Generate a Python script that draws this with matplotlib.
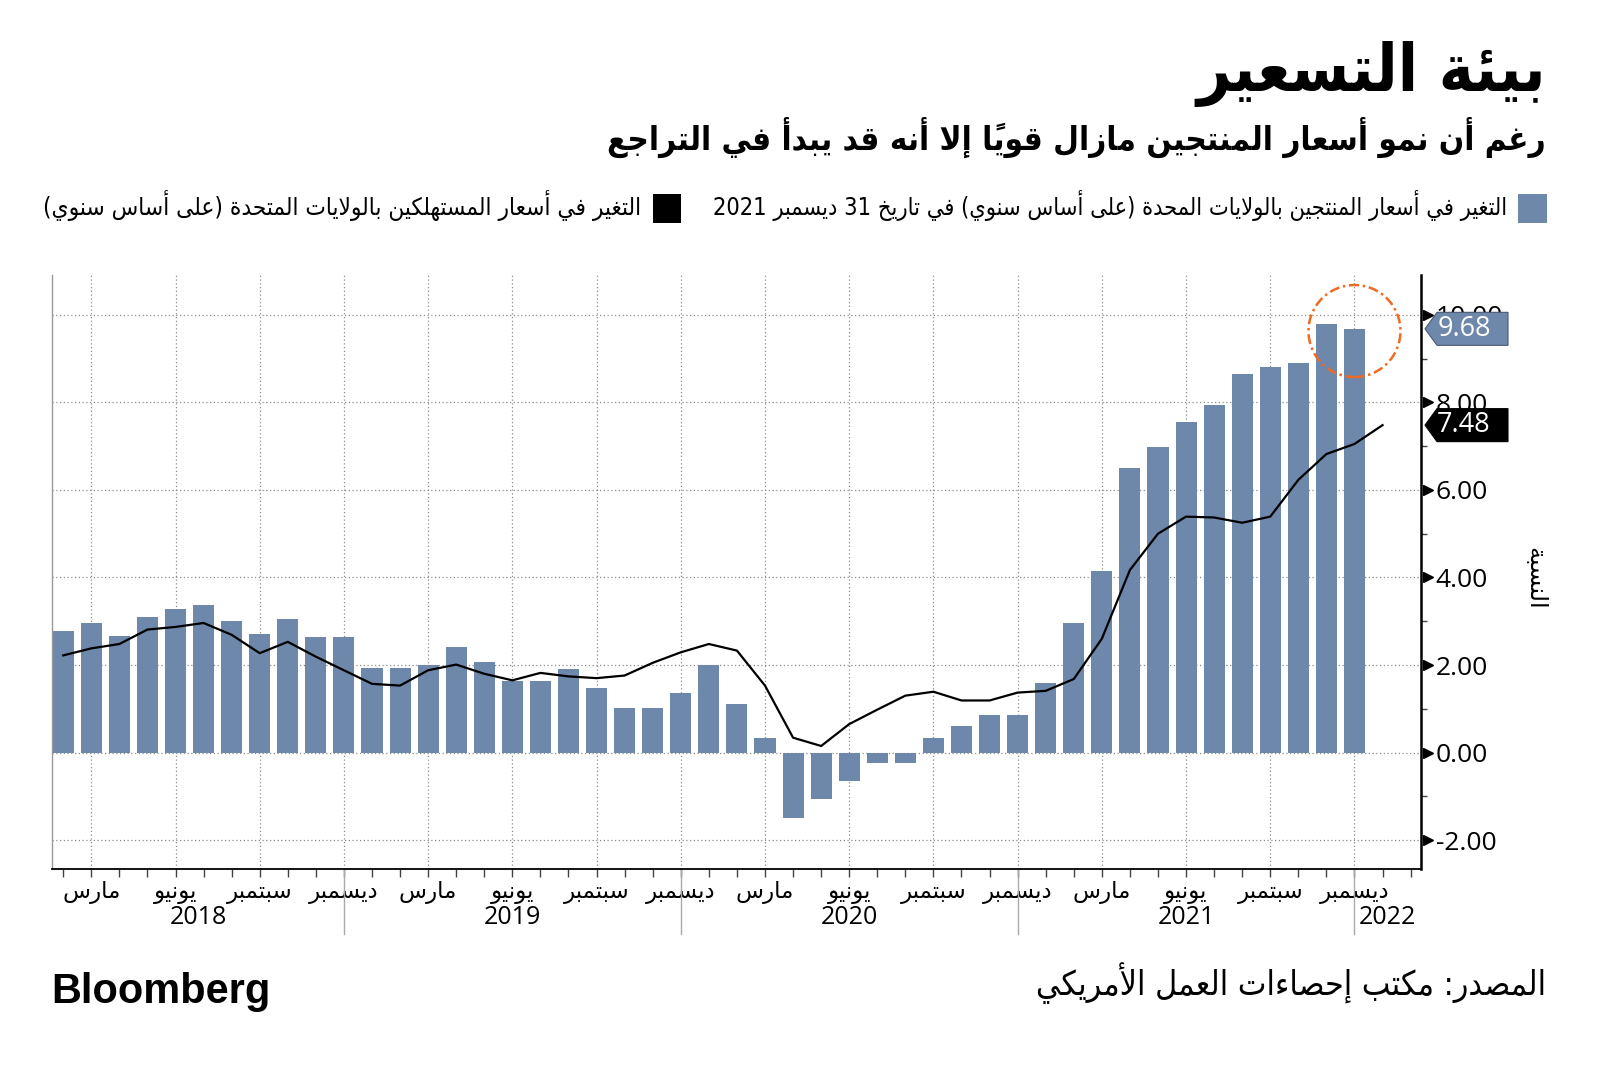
import numpy as np
import matplotlib
matplotlib.use('Agg')
import matplotlib.pyplot as plt
from matplotlib.patches import Polygon, Rectangle, Ellipse
from matplotlib.font_manager import FontProperties, findfont
from matplotlib.ft2font import FT2Font

# ---------------- data ----------------
# monthly, Feb 2018 .. Dec 2021 (bars) / Jan 2022 (line)
ppi = [2.77, 2.95, 2.67, 3.09, 3.28, 3.37, 3.00, 2.72, 3.06, 2.64, 2.64,
       1.93, 1.93, 2.00, 2.41, 2.07, 1.64, 1.64, 1.90, 1.48, 1.02, 1.02, 1.36,
       2.00, 1.10, 0.34, -1.49, -1.06, -0.64, -0.24, -0.24, 0.34, 0.60, 0.85, 0.85,
       1.58, 2.95, 4.14, 6.50, 6.98, 7.55, 7.95, 8.64, 8.80, 8.89, 9.80, 9.68]
cpi = [2.22, 2.38, 2.48, 2.81, 2.87, 2.96, 2.69, 2.27, 2.53, 2.19, 1.88,
       1.57, 1.53, 1.88, 2.01, 1.80, 1.65, 1.82, 1.74, 1.70, 1.76, 2.05, 2.29,
       2.48, 2.33, 1.53, 0.34, 0.15, 0.65, 0.98, 1.30, 1.39, 1.19, 1.19, 1.37,
       1.41, 1.68, 2.60, 4.17, 5.00, 5.39, 5.37, 5.25, 5.39, 6.23, 6.82, 7.05,
       7.48]
month_names = ['مارس', 'يونيو', 'سبتمبر', 'ديسمبر']
month_tick_labels = month_names * 4
year_labels = ['2018', '2019', '2020', '2021', '2022']
y_ticks = [-2, 0, 2, 4, 6, 8, 10]
y_tick_labels = ['-2.00', '0.00', '2.00', '4.00', '6.00', '8.00', '10.00']

title = 'بيئة التسعير'
subtitle = 'رغم أن نمو أسعار المنتجين مازال قوياً إلا أنه قد يبدأ في التراجع'
legend_ppi = 'التغير في أسعار المنتجين بالولايات المحدة (على أساس سنوي) في تاريخ 31 ديسمبر 2021'
legend_cpi = 'التغير في أسعار المستهلكين بالولايات المتحدة (على أساس سنوي)'
y_label = 'النسبة'
source = 'المصدر: مكتب إحصاءات العمل الأمريكي'

BAR = '#6e88ab'
ORANGE = '#ef6a22'

# ---------------- Arabic shaping (no shaping engine in matplotlib) ----------------
FORMS = {
    '\u0621': ('\ufe80', None, None, None),
    '\u0622': ('\ufe81', '\ufe82', None, None),
    '\u0623': ('\ufe83', '\ufe84', None, None),
    '\u0624': ('\ufe85', '\ufe86', None, None),
    '\u0625': ('\ufe87', '\ufe88', None, None),
    '\u0626': ('\ufe89', '\ufe8a', '\ufe8b', '\ufe8c'),
    '\u0627': ('\ufe8d', '\ufe8e', None, None),
    '\u0628': ('\ufe8f', '\ufe90', '\ufe91', '\ufe92'),
    '\u0629': ('\ufe93', '\ufe94', None, None),
    '\u062a': ('\ufe95', '\ufe96', '\ufe97', '\ufe98'),
    '\u062b': ('\ufe99', '\ufe9a', '\ufe9b', '\ufe9c'),
    '\u062c': ('\ufe9d', '\ufe9e', '\ufe9f', '\ufea0'),
    '\u062d': ('\ufea1', '\ufea2', '\ufea3', '\ufea4'),
    '\u062e': ('\ufea5', '\ufea6', '\ufea7', '\ufea8'),
    '\u062f': ('\ufea9', '\ufeaa', None, None),
    '\u0630': ('\ufeab', '\ufeac', None, None),
    '\u0631': ('\ufead', '\ufeae', None, None),
    '\u0632': ('\ufeaf', '\ufeb0', None, None),
    '\u0633': ('\ufeb1', '\ufeb2', '\ufeb3', '\ufeb4'),
    '\u0634': ('\ufeb5', '\ufeb6', '\ufeb7', '\ufeb8'),
    '\u0635': ('\ufeb9', '\ufeba', '\ufebb', '\ufebc'),
    '\u0636': ('\ufebd', '\ufebe', '\ufebf', '\ufec0'),
    '\u0637': ('\ufec1', '\ufec2', '\ufec3', '\ufec4'),
    '\u0638': ('\ufec5', '\ufec6', '\ufec7', '\ufec8'),
    '\u0639': ('\ufec9', '\ufeca', '\ufecb', '\ufecc'),
    '\u063a': ('\ufecd', '\ufece', '\ufecf', '\ufed0'),
    '\u0641': ('\ufed1', '\ufed2', '\ufed3', '\ufed4'),
    '\u0642': ('\ufed5', '\ufed6', '\ufed7', '\ufed8'),
    '\u0643': ('\ufed9', '\ufeda', '\ufedb', '\ufedc'),
    '\u0644': ('\ufedd', '\ufede', '\ufedf', '\ufee0'),
    '\u0645': ('\ufee1', '\ufee2', '\ufee3', '\ufee4'),
    '\u0646': ('\ufee5', '\ufee6', '\ufee7', '\ufee8'),
    '\u0647': ('\ufee9', '\ufeea', '\ufeeb', '\ufeec'),
    '\u0648': ('\ufeed', '\ufeee', None, None),
    '\u0649': ('\ufeef', '\ufef0', None, None),
    '\u064a': ('\ufef1', '\ufef2', '\ufef3', '\ufef4'),
}
LAMALEF = {'\u0622': ('\ufef5', '\ufef6'), '\u0623': ('\ufef7', '\ufef8'),
           '\u0625': ('\ufef9', '\ufefa'), '\u0627': ('\ufefb', '\ufefc')}
MIRROR = {'(': ')', ')': '('}


def is_mark(c):
    return '\u064b' <= c <= '\u0652'


def dual(c):
    return c in FORMS and FORMS[c][2] is not None


def joining(c):
    return c in FORMS and FORMS[c][1] is not None


def shape(text):
    ch = list(text)
    n = len(ch)

    def prev_letter(k):
        k -= 1
        while k >= 0 and is_mark(ch[k]):
            k -= 1
        return ch[k] if k >= 0 else None

    def next_letter(k):
        k += 1
        while k < n and is_mark(ch[k]):
            k += 1
        return (ch[k], k) if k < n else (None, None)

    out = []
    i = 0
    while i < n:
        c = ch[i]
        if c not in FORMS:
            out.append(c)
            i += 1
            continue
        p = prev_letter(i)
        jp = p is not None and dual(p) and joining(c)
        nc, nk = next_letter(i)
        if c == '\u0644' and nc in LAMALEF:
            out.append(LAMALEF[nc][1 if jp else 0])
            i = nk + 1
            continue
        jn = dual(c) and nc is not None and joining(nc)
        iso, fin, ini, med = FORMS[c]
        if jp and jn:
            out.append(med)
        elif jp:
            out.append(fin)
        elif jn:
            out.append(ini)
        else:
            out.append(iso)
        i += 1
    return ''.join(out)


def ar(text):
    s = shape(text)
    clusters = []
    for c in s:
        if is_mark(c) and clusters:
            clusters[-1] += c
        else:
            clusters.append(c)
    clusters.reverse()
    out, run = [], []
    for cl in clusters:
        if cl.isdigit() or (cl in '.,' and run):
            run.append(cl)
        else:
            if run:
                out.extend(reversed(run))
                run = []
            out.append(MIRROR.get(cl, cl))
    if run:
        out.extend(reversed(run))
    return ''.join(out)


# ---------------- fonts ----------------
def has_arabic(fp):
    try:
        f = FT2Font(findfont(fp, fallback_to_default=False))
        return f.get_char_index(0xFE91) != 0 and f.get_char_index(0xFEFB) != 0
    except Exception:
        return False


AR = 'DejaVu Sans'
ar_bold_fp = FontProperties(family=AR, weight='bold', stretch='condensed')
if not has_arabic(ar_bold_fp):
    ar_bold_fp = FontProperties(family=AR, weight='bold')
    if not has_arabic(ar_bold_fp):
        ar_bold_fp = FontProperties(family=AR)
ar_semi_fp = FontProperties(family=AR, stretch='condensed')
if not has_arabic(ar_semi_fp):
    ar_semi_fp = FontProperties(family=AR)

plt.rcParams['font.family'] = ['Open Sans', 'DejaVu Sans']

W, H = 1600, 1069
fig = plt.figure(figsize=(W / 100, H / 100), dpi=100)


def fx(px):
    return px / W


def fy(py):
    return 1 - py / H


L, R, T, B = 52, 1421, 275, 869
ax = fig.add_axes([fx(L), fy(B), (R - L) / W, (B - T) / H])

x_bar = np.arange(len(ppi))
x_line = np.arange(len(cpi))
XMIN, XMAX = -0.40, 48.37
YMIN, YMAX = -2.66, 10.91

ax.bar(x_bar, ppi, width=0.75, color=BAR, zorder=2)
ax.plot(x_line, cpi, color='black', lw=1.6, zorder=3, solid_joinstyle='round')

ax.set_xlim(XMIN, XMAX)
ax.set_ylim(YMIN, YMAX)

# x axis
major_x = np.arange(1, len(cpi), 3)
ax.set_xticks(major_x)
ax.set_xticklabels([ar(m) for m in month_tick_labels], family=AR, fontsize=16.5)
ax.set_xticks(np.arange(0, 49), minor=True)
ax.tick_params(axis='x', which='both', direction='out', length=6, width=1,
               color='#444444', pad=3)

# y axis on the right
ax.yaxis.tick_right()
ax.set_yticks(y_ticks)
ax.set_yticklabels(y_tick_labels)
ax.set_yticks(np.arange(-1, 11, 2), minor=True)
ax.tick_params(axis='y', which='major', length=0, pad=10.5, labelsize=19,
               labelcolor='black')
ax.tick_params(axis='y', which='minor', length=4, width=1, color='#444444')
ytr = ax.get_yaxis_transform()
ax.plot([1 + 7 / (R - L)] * len(y_ticks), y_ticks, linestyle='none', marker='>',
        markersize=6.5, color='black', transform=ytr, clip_on=False, zorder=6)

# grid
ax.grid(True, which='major', axis='both', color='#8c8c8c', linestyle=(0, (1, 2)),
        linewidth=0.9, zorder=0)
ax.set_axisbelow(True)

ax.spines['top'].set_visible(False)
ax.spines['left'].set_color('#999999')
ax.spines['left'].set_linewidth(1)
ax.spines['right'].set_color('black')
ax.spines['right'].set_linewidth(1.8)
ax.spines['bottom'].set_color('black')
ax.spines['bottom'].set_linewidth(1.3)

# year separators and labels
xtr = ax.get_xaxis_transform()
seps = [10, 22, 34, 46]
for s in seps:
    ax.plot([s, s], [0, -(934 - B) / (B - T)], color='#aaaaaa', lw=1,
            transform=xtr, clip_on=False)
bounds = [XMIN] + seps + [XMAX]
for k, lab in enumerate(year_labels):
    cx = (bounds[k] + bounds[k + 1]) / 2
    ax.text(cx, -(918 - B) / (B - T), lab, transform=xtr, ha='center', va='center',
            fontsize=18, color='black')

# value tags
axw = R - L


def tag(val, face, edge):
    h = 33 / ((B - T) / (YMAX - YMIN))
    tip, bl, rr = 1 + 4 / axw, 1 + 16 / axw, 1 + 87 / axw
    pts = [(tip, val), (bl, val + h / 2), (rr, val + h / 2), (rr, val - h / 2),
           (bl, val - h / 2)]
    ax.add_patch(Polygon(pts, closed=True, facecolor=face, edgecolor=edge, lw=0.8,
                         transform=ytr, clip_on=False, zorder=10))
    ax.text(1 + 43 / axw, val, f'{val:.2f}', transform=ytr, ha='center', va='center',
            color='white', fontsize=19.5, zorder=11, clip_on=False)


tag(ppi[-1], BAR, '#4a5a70')
tag(cpi[-1], 'black', 'black')

# highlight circle (pixel-round)
px_x = (R - L) / (XMAX - XMIN)
px_y = (B - T) / (YMAX - YMIN)
rad = 46
ax.add_patch(Ellipse((x_bar[-1], ppi[-1] - 0.05), 2 * rad / px_x, 2 * rad / px_y,
                     fill=False, edgecolor=ORANGE, lw=1.8,
                     linestyle=(0, (4, 1.5, 1, 1.5)), zorder=8, clip_on=False))

# ---------------- header / legend / footer ----------------
texts_fit = []
t_title = fig.text(fx(1546), fy(91), ar(title), fontproperties=ar_bold_fp,
                   fontsize=44, ha='right', va='baseline')
texts_fit.append((t_title, 350, 'w'))
t_sub = fig.text(fx(1546), fy(150), ar(subtitle), fontproperties=ar_bold_fp,
                 fontsize=24, ha='right', va='baseline')
texts_fit.append((t_sub, 941, 'w'))

fig.patches.append(Rectangle((fx(1518), fy(223)), 29 / W, 29 / H, facecolor=BAR,
                             transform=fig.transFigure, figure=fig))
fig.patches.append(Rectangle((fx(653), fy(223)), 28 / W, 29 / H, facecolor='black',
                             transform=fig.transFigure, figure=fig))
t_l1 = fig.text(fx(1507), fy(215), ar(legend_ppi), fontproperties=ar_semi_fp,
                fontsize=16, ha='right', va='baseline')
texts_fit.append((t_l1, 801, 'w'))
t_l2 = fig.text(fx(641), fy(215), ar(legend_cpi), fontproperties=ar_semi_fp,
                fontsize=16, ha='right', va='baseline')
texts_fit.append((t_l2, 602, 'w'))

t_yl = fig.text(fx(1535), fy(578), ar(y_label), family=AR, fontsize=15,
                rotation=-90, ha='center', va='center')
texts_fit.append((t_yl, 63, 'h'))

t_src = fig.text(fx(1546), fy(995), ar(source), fontproperties=ar_semi_fp,
                 fontsize=22, ha='right', va='baseline')
texts_fit.append((t_src, 510, 'w'))
t_bb = fig.text(fx(51), fy(1003), 'Bloomberg', family=['Liberation Sans', 'DejaVu Sans'],
                weight='bold', fontsize=30, ha='left', va='baseline')
texts_fit.append((t_bb, 219, 'w'))

fig.canvas.draw()
rend = fig.canvas.get_renderer()
for t, target, mode in texts_fit:
    bb = t.get_window_extent(rend)
    cur = bb.width if mode == 'w' else bb.height
    if cur > 0:
        t.set_fontsize(t.get_fontsize() * target / cur)

fig.savefig('out.png', dpi=100, facecolor='white')
